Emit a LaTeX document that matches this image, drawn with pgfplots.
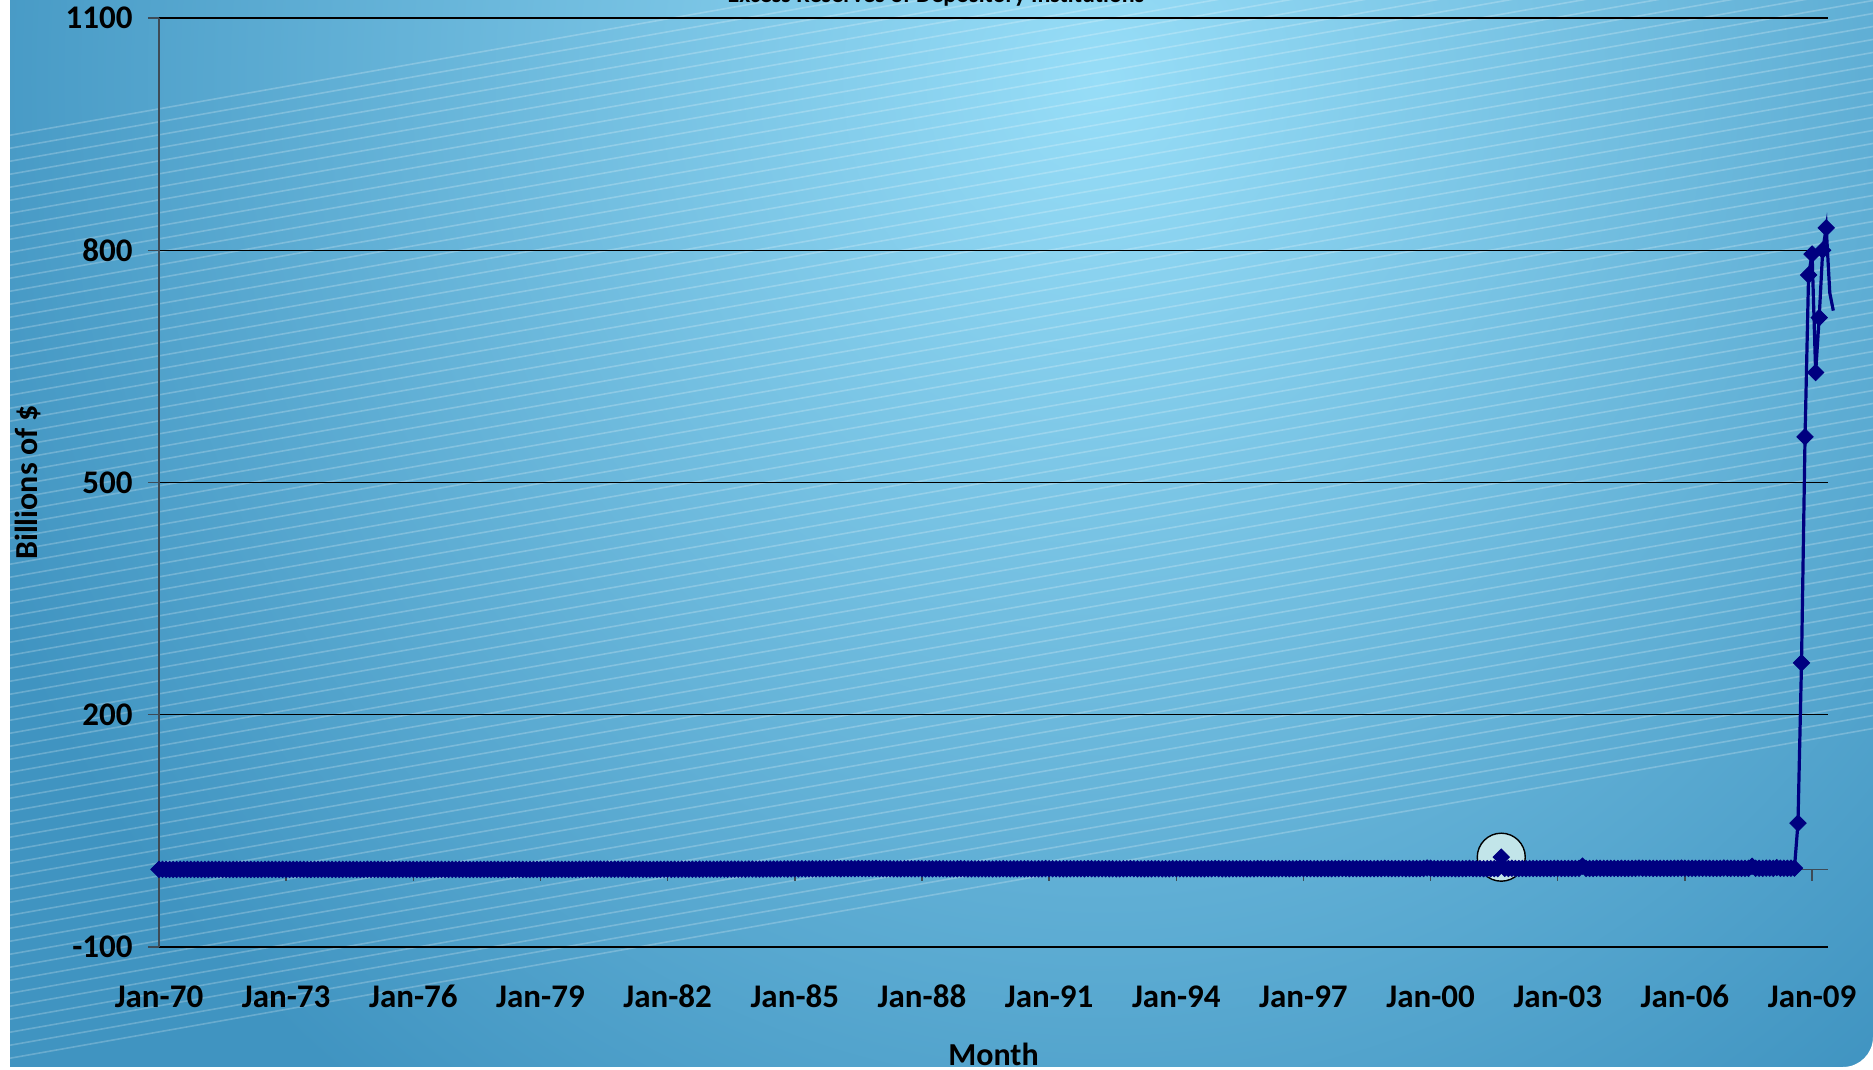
\documentclass[border=0pt]{standalone}
\usepackage{pgfplots}
\pgfplotsset{compat=1.18}
\usepackage{pgfplotstable}
\usepackage{fontspec}
\setmainfont{Carlito}
\definecolor{navyline}{HTML}{000080}
\definecolor{bginner}{HTML}{97DDF7}
\definecolor{bgouter}{HTML}{4094C1}
\definecolor{axisgray}{HTML}{3D4B57}
\definecolor{circfill}{HTML}{C2E5E9}
\pgfdeclareradialshading{bgshade}{\pgfpointorigin}{color(0bp)=(bginner); color(50bp)=(bgouter); color(100bp)=(bgouter)}

% Monthly excess reserves of depository institutions, billions of $, Jan-70 ... Jul-09
\pgfplotstableread{
y
0.18
0.21
0.17
0.20
0.16
0.19
0.22
0.17
0.20
0.18
0.16
0.23
0.21
0.18
0.19
0.17
0.16
0.22
0.19
0.18
0.17
0.20
0.16
0.25
0.20
0.17
0.21
0.18
0.19
0.16
0.22
0.18
0.20
0.17
0.19
0.27
0.22
0.19
0.24
0.20
0.18
0.23
0.21
0.19
0.25
0.22
0.20
0.28
0.24
0.21
0.19
0.26
0.22
0.20
0.25
0.23
0.21
0.19
0.24
0.30
0.26
0.23
0.29
0.22
0.25
0.21
0.27
0.24
0.22
0.26
0.23
0.31
0.28
0.22
0.25
0.20
0.26
0.23
0.21
0.27
0.24
0.22
0.25
0.29
0.21
0.24
0.19
0.23
0.20
0.22
0.25
0.18
0.21
0.24
0.20
0.27
0.23
0.20
0.25
0.19
0.22
0.18
0.24
0.21
0.20
0.23
0.19
0.30
0.28
0.25
0.31
0.24
0.27
0.33
0.26
0.29
0.25
0.35
0.30
0.45
0.48
0.41
0.53
0.46
0.62
0.55
0.50
0.58
0.47
0.52
0.44
0.65
0.42
0.36
0.39
0.33
0.41
0.35
0.30
0.38
0.34
0.37
0.32
0.44
0.40
0.35
0.43
0.38
0.47
0.41
0.45
0.52
0.44
0.49
0.42
0.58
0.55
0.48
0.52
0.61
0.56
0.50
0.63
0.57
0.54
0.59
0.52
0.73
0.68
0.62
0.71
0.65
0.80
0.74
0.69
0.77
0.72
0.85
0.76
0.98
0.95
0.88
1.02
0.91
0.97
1.06
0.93
1.10
0.99
1.15
1.04
1.32
1.18
1.05
1.22
1.11
1.27
1.16
1.35
1.20
1.28
1.13
1.25
1.48
1.12
1.01
0.97
1.06
0.99
1.03
0.95
1.08
1.00
1.04
0.96
1.21
1.05
0.98
1.02
0.94
1.01
0.96
1.07
0.99
1.03
0.97
1.00
1.18
0.96
0.89
0.93
0.87
0.95
0.90
0.98
0.91
0.88
0.94
0.90
1.12
1.02
0.95
0.99
0.92
1.00
0.96
1.04
0.97
0.94
1.01
0.98
1.25
1.15
1.02
1.06
0.98
1.04
1.00
1.08
1.01
0.97
1.05
1.02
1.30
1.10
0.99
1.04
0.96
1.02
0.98
1.06
1.00
0.97
1.03
0.99
1.28
1.08
0.97
1.01
0.95
1.00
0.96
1.04
0.98
0.95
1.02
0.99
1.25
1.12
1.01
1.06
0.99
1.04
1.00
1.09
1.03
0.99
1.06
1.02
1.31
1.15
1.04
1.09
1.02
1.07
1.03
1.11
1.05
1.01
1.08
1.05
1.34
1.20
1.09
1.14
1.06
1.12
1.08
1.16
1.10
1.07
1.13
1.10
1.40
1.26
1.15
1.19
1.12
1.18
1.13
1.22
1.16
1.12
1.20
1.16
1.48
1.33
1.21
1.26
1.18
1.24
1.19
1.29
1.22
1.18
1.27
1.23
1.59
1.36
1.25
1.29
1.21
1.27
1.22
1.31
1.24
1.20
1.28
1.34
1.98
1.72
1.18
1.24
1.15
1.21
1.17
1.25
1.19
1.14
1.22
1.18
1.46
1.31
1.20
1.26
1.17
1.23
1.19
1.28
1.21
16.0
1.62
1.35
1.71
1.48
1.36
1.42
1.33
1.39
1.35
1.44
1.37
1.32
1.40
1.36
1.65
1.55
1.43
1.49
1.40
1.46
1.42
1.51
4.50
1.48
1.45
1.41
1.74
1.62
1.50
1.56
1.47
1.53
1.49
1.58
1.52
1.46
1.55
1.51
1.83
1.69
1.56
1.62
1.53
1.59
1.55
1.65
1.58
1.52
1.60
1.57
1.90
1.75
1.61
1.68
1.58
1.64
1.60
1.70
1.63
1.57
1.66
1.62
1.96
1.72
1.58
1.65
1.55
1.61
1.57
1.67
4.20
1.62
1.59
1.55
1.93
1.81
1.67
2.50
1.74
1.78
1.69
1.83
1.90
60.0
267.0
559.0
768.0
795.0
642.0
713.0
800.0
829.0
745.0
722.0
}\resdata

\begin{document}
\begin{tikzpicture}
\useasboundingbox (-79.5bp,-61.5bp) rectangle (857bp,473.5bp);
\fill[bgouter] (-79.5bp,-61.5bp) rectangle (857bp,473.5bp);
\begin{scope}
  \clip[rounded corners=15bp] (-120bp,-60bp) rectangle (857bp,520bp);
  \node[inner sep=0pt, outer sep=0pt, anchor=center, xscale=12.1, yscale=12.8, transform shape] at (470.5bp,433.5bp) {\pgfuseshading{bgshade}};
  \begin{scope}[x=1bp,y=1bp]
    \foreach \i in {0,...,71}
      \draw[white, opacity=0.22, line width=0.8bp] (-79.5,{405-6.5*\i}) -- (857,{570.75-6.5*\i});
  \end{scope}
\end{scope}
\fill[white] (-79.5bp,-61.5bp) rectangle (-74.5bp,473.5bp);
\fill[white] (-79.5bp,-61.5bp) rectangle (857bp,-60bp);
\begin{scope}
  \clip (840bp,-60bp) rectangle (857bp,-40bp);
  \fill[white, even odd rule] (830bp,-70bp) rectangle (870bp,-30bp) [rounded corners=15bp] (-120bp,-60bp) rectangle (857bp,520bp);
\end{scope}

\begin{axis}[
  at={(0,0)}, anchor=south west,
  scale only axis, width=834.5bp, height=464.5bp,
  xmin=0, xmax=472.5, ymin=-100, ymax=1100,
  clip=false,
  axis x line*=middle, axis y line*=left,
  hide obscured x ticks=false,
  x axis line style={draw=axisgray, line width=0.7bp, -},
  y axis line style={draw=axisgray, line width=0.7bp, -},
  tick align=outside,
  major tick length=5.5bp,
  x tick style={draw=axisgray, line width=0.7bp},
  y tick style={draw=axisgray, line width=0.7bp},
  ytick={-100,200,500,800,1100},
  xtick={0,36,72,108,144,180,216,252,288,324,360,396,432,468},
  xticklabels={Jan-70,Jan-73,Jan-76,Jan-79,Jan-82,Jan-85,Jan-88,Jan-91,Jan-94,Jan-97,Jan-00,Jan-03,Jan-06,Jan-09},
  ymajorgrids, major grid style={black, line width=0.6bp},
  /pgf/number format/assume math mode=true,
  /pgf/number format/1000 sep={},
  ticklabel style={font=\bfseries\fontsize{16.5bp}{19bp}\selectfont},
  xticklabel style={anchor=base, yshift=-63.5bp},
  yticklabel style={anchor=east, xshift=-4.2bp},
  xlabel style={at={(axis description cs:0.5,0)}, anchor=base, yshift=-59bp, font=\bfseries\fontsize{16bp}{19bp}\selectfont},
  ylabel style={at={(axis description cs:-0.0785,0.5)}, anchor=center, font=\bfseries\fontsize{16bp}{19bp}\selectfont},
  xlabel={Month},
  ylabel={Billions of \$},
]
\addplot[only marks, mark=*, mark size=12bp, mark options={fill=circfill, draw=black, line width=0.7bp}] coordinates {(380,16)};
\addplot[navyline, line width=1.6bp, mark=none] table[x expr=\coordindex, y=y] {\resdata};
\addplot[only marks, mark=square*, mark size=2.9bp, mark options={rotate=45, fill=navyline, draw=navyline}, restrict x to domain=0:472.5] table[x expr=\coordindex, y=y] {\resdata};
\end{axis}
\node[anchor=base, inner sep=0pt, font=\bfseries\fontsize{12bp}{15bp}\selectfont] at (388.5bp,472.25bp) {Excess Reserves of Depository Institutions};
\end{tikzpicture}
\end{document}
